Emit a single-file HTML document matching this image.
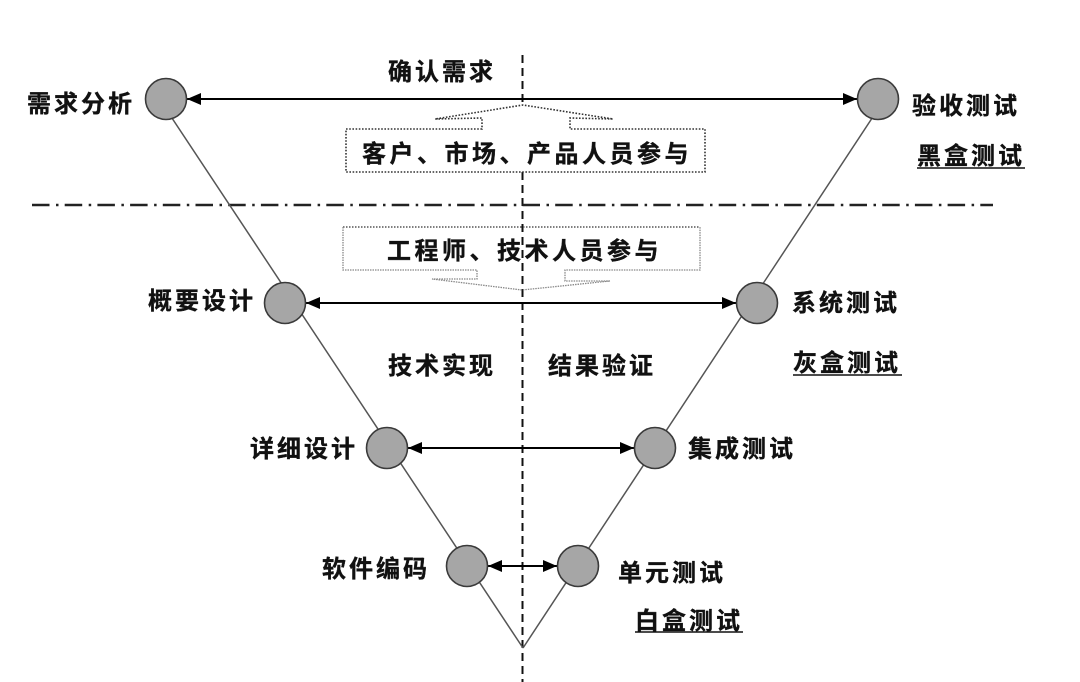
<!DOCTYPE html>
<html><head><meta charset="utf-8"><style>
html,body{margin:0;padding:0;background:#fff;}
svg{display:block;}
text{font-family:"Liberation Sans","Noto Sans CJK SC",sans-serif;font-weight:bold;font-size:24px;fill:#111;letter-spacing:3px;stroke:#111;stroke-width:0.35px;}
</style></head><body>
<svg width="1080" height="682" viewBox="0 0 1080 682" xmlns="http://www.w3.org/2000/svg">
<defs>
<marker id="ah" viewBox="0 0 14 12" refX="14" refY="6" markerWidth="14" markerHeight="12" markerUnits="userSpaceOnUse" orient="auto-start-reverse">
<path d="M0,0 L14,6 L0,12 z" fill="#000"/>
</marker>
</defs>
<!-- vertical dashed center line -->
<line x1="522.5" y1="55" x2="522.5" y2="682" stroke="#111" stroke-width="2" stroke-dasharray="8 5"/>
<!-- dash-dot horizontal -->
<line x1="32" y1="205" x2="993" y2="205" stroke="#222" stroke-width="2.5" stroke-dasharray="17.5 6.5 2.5 6.2"/>
<!-- V lines -->
<line x1="160" y1="100" x2="523" y2="648" stroke="#555" stroke-width="1.5"/>
<line x1="884" y1="100" x2="523" y2="648" stroke="#555" stroke-width="1.5"/>
<!-- top dotted box with up arrow -->
<path d="M482,129 L346,129 L346,172 L705,172 L705,129 L570,129 L570,118 L613,119 L523,105 L435,119 L482,118 Z" fill="#fff" stroke="#333" stroke-width="1.6" stroke-dasharray="1.6 1.6"/>
<!-- bottom box with down arrow -->
<path d="M343,227 L700,227" fill="none" stroke="#555" stroke-width="1.4" stroke-dasharray="1.5 1.5"/>
<path d="M343,227 L343,270 L477,270 L477,279 L432,279 L522,290 L610,281 L565,281 L565,270 L700,270 L700,227" fill="none" stroke="#888" stroke-width="1.3" stroke-dasharray="1.5 1"/>
<!-- horizontal arrows -->
<line x1="187" y1="99" x2="857" y2="99" stroke="#000" stroke-width="2" marker-start="url(#ah)" marker-end="url(#ah)"/>
<line x1="306" y1="303" x2="736" y2="303" stroke="#000" stroke-width="2" marker-start="url(#ah)" marker-end="url(#ah)"/>
<line x1="408" y1="448" x2="634" y2="448" stroke="#000" stroke-width="2" marker-start="url(#ah)" marker-end="url(#ah)"/>
<line x1="488" y1="566" x2="557" y2="566" stroke="#000" stroke-width="2" marker-start="url(#ah)" marker-end="url(#ah)"/>
<!-- circles -->
<g fill="#a6a6a6" stroke="#3a3a3a" stroke-width="1.6">
<circle cx="166" cy="99" r="20.5"/>
<circle cx="878" cy="99" r="20.5"/>
<circle cx="285" cy="303" r="20.5"/>
<circle cx="757" cy="303" r="20.5"/>
<circle cx="387" cy="448" r="20.5"/>
<circle cx="655" cy="448" r="20.5"/>
<circle cx="467" cy="566" r="20.5"/>
<circle cx="578" cy="566" r="20.5"/>
</g>
<!-- labels -->
<text x="388" y="80">确认需求</text>
<text x="362" y="162" style="letter-spacing:3.5px">客户、市场、产品人员参与</text>
<text x="387" y="259" style="letter-spacing:3.5px">工程师、技术人员参与</text>
<text x="27" y="112">需求分析</text>
<text x="148" y="309">概要设计</text>
<text x="912" y="114">验收测试</text>
<text x="917" y="164">黑盒测试</text>
<line x1="917" y1="168" x2="1025" y2="168" stroke="#111" stroke-width="1.5"/>
<text x="792" y="311">系统测试</text>
<text x="793" y="371">灰盒测试</text>
<line x1="793" y1="375" x2="902" y2="375" stroke="#111" stroke-width="1.5"/>
<text x="388" y="374">技术实现</text>
<text x="548" y="374">结果验证</text>
<text x="250" y="457">详细设计</text>
<text x="688" y="457">集成测试</text>
<text x="322" y="577">软件编码</text>
<text x="618" y="581">单元测试</text>
<text x="635" y="629">白盒测试</text>
<line x1="635" y1="632" x2="743" y2="632" stroke="#111" stroke-width="1.5"/>
</svg>
</body></html>
